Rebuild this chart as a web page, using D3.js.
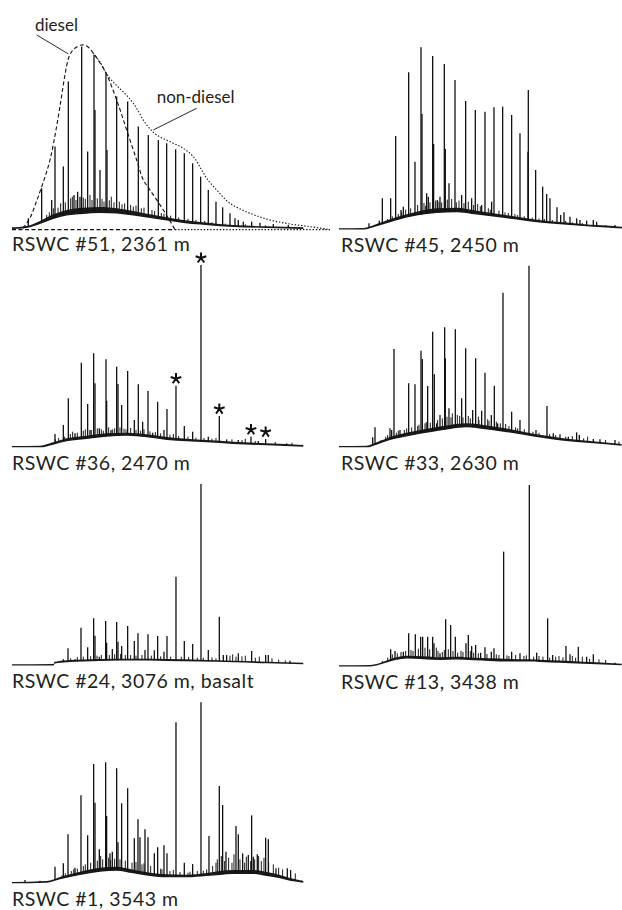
<!DOCTYPE html>
<html>
<head>
<meta charset="utf-8">
<script src="https://cdn.jsdelivr.net/npm/d3@7"></script>
<style>
  body { margin: 0; background: #fff; }
  svg { display: block; }
  text { font-family: Lato, "Open Sans", sans-serif; fill: #231f20; }
</style>
</head>
<body>
<div id="chart"></div>
<script>
// Retention in arbitrary units (0-874 spans the trace), abundance in arbitrary units.
// Peaks: [retention, apex abundance]; grass: small unresolved spikes;
// humps: [retention, lower, upper] of the unresolved envelope.

var labels = [
  "RSWC #51, 2361 m", "RSWC #45, 2450 m", "RSWC #36, 2470 m", "RSWC #33, 2630 m",
  "RSWC #24, 3076 m, basalt", "RSWC #13, 3438 m", "RSWC #1, 3543 m"
];

var peaks51 = [
  [49, 30], [89, 120], [119, 85], [129, 245], [154, 185], [169, 440], [186, 100], [197, 110],
  [204, 95], [209, 545], [227, 230], [246, 520], [249, 355], [264, 175], [282, 465], [285, 235],
  [314, 395], [347, 380], [379, 305], [409, 280], [439, 265], [464, 255], [491, 237], [517, 225],
  [542, 195], [566, 155], [589, 115], [612, 80], [632, 63], [654, 45], [669, 30], [679, 25],
  [694, 20], [719, 20], [744, 17], [784, 13], [829, 10]
];
var grass51 = [
  [104, 40], [112, 48], [124, 60], [138, 62], [146, 75], [160, 78], [176, 90], [181, 95], [192, 85],
  [214, 92], [220, 88], [234, 100], [240, 85], [256, 90], [270, 88], [276, 80], [292, 84], [298, 95],
  [306, 78], [322, 80], [330, 72], [338, 75], [356, 70], [364, 65], [372, 68], [388, 60], [396, 62],
  [420, 55], [428, 52], [448, 46], [456, 44], [476, 38], [500, 33], [528, 28], [552, 25], [578, 22],
  [600, 18], [640, 14], [700, 12], [760, 9]
];
var hump51 = [
  [0, 0, 3], [44, 3, 7], [84, 15, 22], [124, 30, 42], [164, 40, 55], [214, 45, 62], [264, 48, 64],
  [314, 46, 60], [364, 40, 52], [414, 33, 42], [464, 25, 33], [514, 18, 25], [564, 13, 19],
  [614, 9, 14], [664, 6, 10], [764, 3, 6], [874, 0, 3]
];
var diesel51 = [
  [33, 0], [54, 31], [75, 85], [96, 145], [114, 205], [132, 295], [147, 385], [159, 460],
  [171, 514], [186, 538], [209, 550], [228, 544], [244, 525], [264, 496], [282, 466], [314, 385],
  [344, 295], [374, 205], [394, 145], [414, 115], [454, 55], [484, 5], [489, -4]
];
var nonDiesel51 = [
  [244, 525], [264, 499], [284, 463], [309, 433], [334, 409], [364, 375], [404, 310], [434, 280],
  [474, 260], [514, 240], [544, 215], [569, 175], [584, 150], [614, 115], [654, 75], [714, 45],
  [774, 25], [834, 13], [894, 5], [954, -4]
];

var peaks45 = [
  [90, 17], [121, 25], [130, 92], [155, 92], [170, 279], [186, 57], [193, 67], [209, 470],
  [228, 202], [246, 545], [249, 345], [263, 107], [268, 97], [281, 519], [284, 255], [295, 87],
  [303, 97], [316, 495], [319, 240], [330, 137], [348, 447], [368, 102], [380, 384], [398, 92],
  [409, 357], [428, 72], [438, 352], [458, 82], [465, 365], [491, 367], [518, 342], [543, 287],
  [567, 232], [568, 417], [590, 177], [611, 127], [623, 105], [633, 92], [654, 65], [665, 42],
  [675, 50], [693, 37], [713, 32], [723, 27], [743, 25], [763, 27], [773, 22], [828, 12]
];
var grass45 = [
  [140, 25], [146, 30], [160, 38], [178, 45], [188, 50], [200, 58], [215, 62], [236, 72], [255, 78],
  [260, 70], [273, 80], [290, 85], [300, 82], [308, 80], [325, 88], [338, 90], [352, 80], [360, 85],
  [375, 78], [388, 82], [404, 72], [416, 75], [424, 68], [448, 62], [454, 58], [480, 55], [498, 50],
  [508, 48], [528, 45], [536, 42], [556, 38], [580, 34], [600, 32], [616, 30], [640, 27], [680, 24],
  [700, 20], [730, 18], [800, 12]
];
var hump45 = [
  [0, 0, 2], [73, 0, 3], [113, 10, 15], [173, 28, 36], [233, 42, 52], [293, 50, 62], [353, 52, 64],
  [413, 45, 55], [473, 38, 46], [533, 30, 37], [593, 22, 28], [673, 15, 20], [753, 9, 13],
  [823, 5, 9], [853, 3, 6]
];

var peaks36 = [
  [119, 12], [129, 38], [154, 65], [169, 145], [189, 40], [208, 252], [227, 128], [234, 50],
  [245, 280], [249, 190], [262, 55], [282, 262], [284, 138], [297, 50], [314, 240], [318, 188],
  [329, 125], [347, 227], [367, 80], [379, 187], [392, 75], [408, 167], [422, 42], [437, 135],
  [456, 50], [465, 113], [492, 183], [517, 62], [542, 45], [567, 545], [589, 30], [622, 92],
  [644, 22], [679, 20], [717, 30], [739, 17], [761, 23], [824, 10]
];
var grass36 = [
  [130, 22], [140, 26], [158, 30], [175, 38], [182, 45], [196, 42], [214, 48], [220, 52], [238, 50],
  [256, 55], [268, 52], [274, 48], [290, 58], [302, 52], [308, 55], [324, 58], [336, 54], [342, 52],
  [356, 56], [372, 50], [386, 48], [396, 52], [414, 46], [430, 44], [446, 40], [474, 36], [484, 38],
  [500, 32], [528, 30], [552, 27], [576, 26], [600, 24], [612, 26], [660, 22], [690, 20], [700, 24],
  [730, 17], [790, 14], [840, 12]
];
var hump36 = [
  [0, 0, 2], [84, 0, 3], [124, 8, 13], [164, 18, 25], [224, 25, 33], [284, 32, 40], [344, 35, 42],
  [404, 30, 37], [464, 22, 29], [524, 18, 24], [584, 15, 20], [664, 10, 15], [764, 6, 10], [874, 2, 5]
];
var stars36 = [492, 567, 622, 717, 761];

var peaks33 = [
  [101, 28], [108, 58], [153, 55], [158, 50], [165, 293], [183, 50], [209, 190], [228, 187],
  [246, 288], [250, 263], [266, 182], [281, 345], [286, 217], [293, 70], [303, 95], [317, 358],
  [319, 265], [330, 115], [349, 352], [368, 145], [380, 295], [401, 110], [410, 265], [428, 108],
  [438, 222], [457, 95], [466, 183], [476, 70], [492, 462], [518, 105], [543, 80], [570, 543],
  [591, 50], [624, 122], [643, 40], [663, 37], [688, 30], [713, 43], [721, 35], [763, 23],
  [783, 22], [828, 20]
];
var grass33 = [
  [126, 20], [140, 30], [146, 35], [172, 42], [178, 48], [196, 50], [203, 55], [218, 58], [236, 62],
  [240, 66], [258, 70], [262, 74], [274, 72], [296, 80], [310, 85], [324, 90], [336, 88], [340, 100],
  [355, 95], [362, 92], [372, 88], [388, 92], [394, 85], [418, 90], [420, 80], [446, 82], [450, 78],
  [472, 75], [484, 70], [500, 68], [510, 62], [530, 58], [536, 55], [556, 52], [582, 45], [600, 42],
  [632, 38], [650, 35], [680, 30], [700, 32], [734, 25], [746, 30], [800, 20], [840, 15]
];
var hump33 = [
  [0, 0, 2], [83, 0, 3], [113, 8, 13], [153, 22, 29], [213, 35, 44], [273, 45, 55], [333, 55, 65],
  [383, 60, 70], [433, 55, 65], [493, 47, 56], [553, 38, 45], [613, 28, 34], [673, 20, 25],
  [753, 13, 17], [848, 5, 8]
];

var peaks24 = [
  [129, 10], [154, 17], [168, 50], [189, 17], [207, 112], [227, 53], [245, 140], [249, 88],
  [262, 25], [281, 132], [284, 67], [301, 48], [314, 129], [318, 70], [329, 57], [347, 117],
  [367, 72], [378, 95], [399, 45], [408, 92], [427, 44], [437, 87], [456, 40], [465, 87],
  [492, 265], [517, 72], [542, 63], [567, 543], [589, 45], [622, 145], [634, 30], [644, 30],
  [679, 35], [719, 42], [761, 30], [769, 30], [834, 13]
];
var grass24 = [
  [176, 20], [196, 24], [214, 25], [236, 26], [255, 28], [268, 30], [292, 30], [308, 32], [326, 33],
  [340, 30], [356, 30], [372, 28], [390, 30], [418, 28], [446, 26], [476, 25], [508, 25], [530, 24],
  [556, 22], [574, 22], [600, 23], [612, 20], [654, 28], [662, 32], [672, 25], [690, 26], [700, 28],
  [730, 22], [742, 25], [780, 20], [800, 16], [820, 14]
];
var hump24 = [
  [0, 0, 2], [124, 0, 3], [129, 6, 9], [164, 10, 14], [264, 14, 18], [364, 15, 19], [464, 14, 18],
  [564, 12, 16], [664, 10, 13], [764, 7, 10], [874, 4, 7]
];

var peaks13 = [
  [155, 50], [168, 45], [193, 43], [209, 98], [229, 95], [245, 88], [251, 88], [266, 88],
  [281, 88], [285, 68], [303, 38], [320, 140], [335, 123], [349, 88], [381, 68], [388, 93],
  [398, 60], [410, 63], [425, 40], [438, 56], [457, 43], [465, 53], [494, 343], [518, 43],
  [543, 38], [571, 543], [593, 40], [626, 143], [641, 33], [681, 60], [693, 35], [718, 58],
  [743, 28], [763, 35], [828, 10]
];
var grass13 = [
  [130, 15], [146, 25], [160, 35], [175, 38], [186, 42], [200, 45], [216, 48], [222, 45], [238, 52],
  [258, 55], [272, 50], [292, 55], [297, 45], [310, 42], [316, 48], [328, 50], [342, 45], [356, 40],
  [366, 45], [372, 42], [394, 45], [404, 40], [418, 38], [444, 36], [472, 35], [480, 33], [504, 32],
  [510, 30], [530, 33], [555, 30], [562, 32], [584, 28], [600, 30], [612, 28], [632, 25], [650, 28],
  [660, 30], [672, 26], [700, 30], [710, 25], [730, 28], [752, 22], [780, 20], [800, 18]
];
var hump13 = [
  [0, 0, 2], [93, 0, 3], [123, 6, 9], [163, 18, 24], [203, 24, 31], [253, 22, 29], [303, 20, 26],
  [353, 21, 28], [403, 19, 25], [453, 17, 23], [513, 15, 21], [573, 15, 20], [633, 12, 17],
  [693, 10, 15], [773, 7, 11], [848, 4, 7]
];

var peaks1 = [
  [39, 8], [84, 6], [129, 48], [154, 58], [168, 145], [189, 45], [207, 262], [227, 142],
  [245, 356], [249, 240], [262, 100], [281, 361], [284, 200], [294, 88], [301, 93], [314, 343],
  [318, 121], [329, 238], [347, 283], [367, 133], [378, 190], [384, 136], [399, 160], [408, 136],
  [427, 88], [437, 106], [456, 112], [465, 88], [492, 481], [517, 60], [542, 56], [567, 541],
  [591, 140], [622, 290], [632, 233], [642, 93], [672, 170], [679, 145], [692, 88], [709, 83],
  [719, 202], [724, 78], [736, 85], [761, 135], [769, 130], [792, 43], [826, 43], [836, 38], [869, 6]
];
var grass1 = [
  [150, 22], [160, 28], [178, 35], [185, 40], [196, 42], [214, 50], [220, 55], [236, 60], [256, 66],
  [266, 80], [272, 70], [290, 75], [296, 68], [308, 72], [324, 70], [340, 66], [360, 60], [372, 62],
  [390, 55], [396, 58], [416, 50], [446, 42], [450, 40], [474, 35], [484, 38], [504, 32], [528, 30],
  [534, 33], [556, 35], [574, 36], [584, 40], [602, 50], [612, 60], [616, 70], [628, 80], [638, 65],
  [650, 75], [660, 60], [666, 85], [684, 70], [698, 60], [703, 78], [716, 65], [728, 70], [740, 80],
  [748, 65], [756, 75], [770, 60], [784, 55], [800, 45], [812, 40], [850, 28]
];
var hump1 = [
  [0, 0, 2], [104, 2, 5], [144, 12, 17], [204, 25, 33], [264, 35, 45], [314, 38, 48], [364, 30, 39],
  [414, 22, 30], [464, 18, 25], [524, 18, 24], [584, 22, 29], [624, 25, 35], [664, 28, 38],
  [724, 28, 38], [764, 22, 32], [804, 15, 23], [834, 8, 14], [874, 2, 5]
];

// layout
var W = 622, H = 910;
var panels = [
  { label: labels[0], x0: 12,  base: 228.3, peaks: peaks51, grass: grass51, hump: hump51 },
  { label: labels[1], x0: 339, base: 229,   peaks: peaks45, grass: grass45, hump: hump45 },
  { label: labels[2], x0: 12,  base: 446.7, peaks: peaks36, grass: grass36, hump: hump36, stars: stars36 },
  { label: labels[3], x0: 339, base: 446.7, peaks: peaks33, grass: grass33, hump: hump33 },
  { label: labels[4], x0: 12,  base: 665,   peaks: peaks24, grass: grass24, hump: hump24 },
  { label: labels[5], x0: 339, base: 666,   peaks: peaks13, grass: grass13, hump: hump13 },
  { label: labels[6], x0: 12,  base: 882.7, peaks: peaks1,  grass: grass1,  hump: hump1 }
];

var svg = d3.select('#chart').append('svg')
  .attr('width', W).attr('height', H)
  .attr('viewBox', '0 0 ' + W + ' ' + H);

function humpLowAt(hump, rt) {
  for (var i = 1; i < hump.length; i++) {
    if (rt <= hump[i][0]) {
      var a = hump[i - 1], b = hump[i];
      var f = (rt - a[0]) / (b[0] - a[0]);
      return a[1] + f * (b[1] - a[1]);
    }
  }
  return hump[hump.length - 1][1];
}

function starPath(cx, cy, r) {
  var d = '';
  for (var k = 0; k < 5; k++) {
    var a = (-90 + k * 72) * Math.PI / 180;
    d += 'M' + cx + ',' + cy + 'L' + (cx + r * Math.cos(a)) + ',' + (cy + r * Math.sin(a));
  }
  return d;
}

panels.forEach(function (p, i) {
  var x = d3.scaleLinear().domain([0, 874]).range([p.x0, p.x0 + 291.3]);
  var y = d3.scaleLinear().domain([0, 560]).range([p.base, p.base - 186.7]);
  var g = svg.append('g').attr('class', 'panel');

  // unresolved hump
  g.append('path')
    .datum(p.hump)
    .attr('d', d3.area()
      .x(function (d) { return x(d[0]); })
      .y0(function (d) { return y(d[1]) + 0.6; })
      .y1(function (d) { return y(d[2]); })
      .curve(d3.curveMonotoneX))
    .attr('fill', '#1a1a1a');

  // small spikes riding on the hump
  g.selectAll('line.grass')
    .data(p.grass)
    .enter().append('line')
    .attr('class', 'grass')
    .attr('x1', function (d) { return x(d[0]); })
    .attr('x2', function (d) { return x(d[0]); })
    .attr('y1', function (d) { return y(humpLowAt(p.hump, d[0])); })
    .attr('y2', function (d) { return y(d[1]); })
    .attr('stroke', '#1a1a1a')
    .attr('stroke-width', 1);

  // resolved peaks
  g.selectAll('line.peak')
    .data(p.peaks)
    .enter().append('line')
    .attr('class', 'peak')
    .attr('x1', function (d) { return x(d[0]); })
    .attr('x2', function (d) { return x(d[0]); })
    .attr('y1', function (d) { return y(humpLowAt(p.hump, d[0])); })
    .attr('y2', function (d) { return y(d[1]); })
    .attr('stroke', '#111')
    .attr('stroke-width', 1.3);

  if (p.stars) {
    g.selectAll('path.star')
      .data(p.stars)
      .enter().append('path')
      .attr('class', 'star')
      .attr('d', function (rt) {
        var pk = p.peaks.find(function (d) { return d[0] === rt; });
        return starPath(x(rt), y(pk[1]) - 7, 5.6);
      })
      .attr('stroke', '#111')
      .attr('stroke-width', 2)
      .attr('fill', 'none');
  }

  if (i === 0) {
    var env = d3.line()
      .x(function (d) { return x(d[0]); })
      .y(function (d) { return y(d[1]); })
      .curve(d3.curveCatmullRom);
    g.append('path').datum(diesel51).attr('d', env)
      .attr('fill', 'none').attr('stroke', '#111').attr('stroke-width', 1.1)
      .attr('stroke-dasharray', '4,2.5');
    g.append('path').datum([[0, -4], [489, -4]]).attr('d', env)
      .attr('fill', 'none').attr('stroke', '#111').attr('stroke-width', 1.1)
      .attr('stroke-dasharray', '4,2.5');
    g.append('path').datum(nonDiesel51).attr('d', env)
      .attr('fill', 'none').attr('stroke', '#111').attr('stroke-width', 1.1)
      .attr('stroke-dasharray', '1.4,1.8');
    g.append('path').datum([[489, -4], [954, -4]]).attr('d', env)
      .attr('fill', 'none').attr('stroke', '#111').attr('stroke-width', 1.1)
      .attr('stroke-dasharray', '1.4,1.8');

    // annotations
    g.append('line')
      .attr('x1', x(74)).attr('y1', y(580)).attr('x2', x(169)).attr('y2', y(523))
      .attr('stroke', '#111').attr('stroke-width', 0.9);
    g.append('text').attr('x', x(69)).attr('y', y(593))
      .attr('font-size', 17).text('diesel');
    g.append('line')
      .attr('x1', x(554)).attr('y1', y(360)).attr('x2', x(424)).attr('y2', y(295))
      .attr('stroke', '#111').attr('stroke-width', 0.9);
    g.append('text').attr('x', x(434)).attr('y', y(375))
      .attr('font-size', 17).text('non-diesel');
  }

  g.append('text')
    .attr('x', p.x0 + (p.x0 > 100 ? 2 : 0))
    .attr('y', p.base + 23)
    .attr('font-size', 19.5)
    .attr('letter-spacing', 0.5)
    .text(p.label);
});
</script>
</body>
</html>
